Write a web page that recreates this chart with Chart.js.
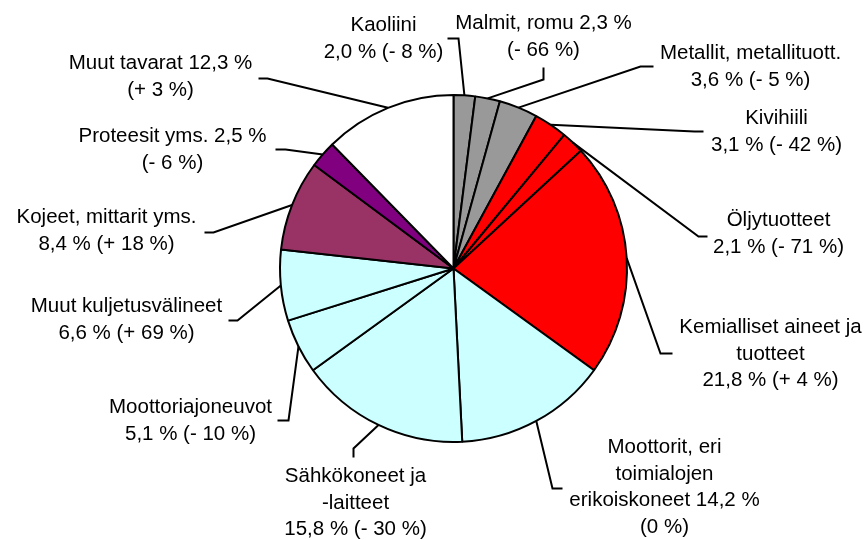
<!DOCTYPE html>
<html>
<head>
<meta charset="utf-8">
<script src="https://cdn.jsdelivr.net/npm/chart.js@4/dist/chart.umd.min.js"></script>
<style>
  html, body { margin: 0; padding: 0; background: #fff; }
  #wrap { width: 867px; height: 540px; }
</style>
</head>
<body>
<div id="wrap"><canvas id="pieChart" width="867" height="540"></canvas></div>
<script>
// Product groups, clockwise from 12 o'clock
const categories = [
    'Kaoliini', 'Malmit, romu', 'Metallit, metallituott.', 'Kivihiili', 'Öljytuotteet',
    'Kemialliset aineet ja\ntuotteet', 'Moottorit, eri\ntoimialojen\nerikoiskoneet',
    'Sähkökoneet ja\n-laitteet', 'Moottoriajoneuvot', 'Muut kuljetusvälineet',
    'Kojeet, mittarit yms.', 'Proteesit yms.', 'Muut tavarat'
];
const shares = [2.0, 2.3, 3.6, 3.1, 2.1, 21.8, 14.2, 15.8, 5.1, 6.6, 8.4, 2.5, 12.3];
const changes = [-8, -66, -5, -42, -71, 4, 0, -30, -10, 69, 18, -6, 3];

const sliceColors = [
    '#999999', '#999999', '#999999', '#ff0000', '#ff0000', '#ff0000',
    '#ccffff', '#ccffff', '#ccffff', '#ccffff', '#993366', '#800080', '#ffffff'
];

// label layout, offsets from the pie centre: text centre, leader elbow, leader end
// inline = share written on the same line as the last name line
const labelLayout = [
    { text: [-70, -243], elbow: [5, -230], end: [-6, -230], inline: false },
    { text: [90, -245], elbow: [90, -189], end: [90, -201], inline: true },
    { text: [297, -215], elbow: [187, -202], end: [200, -202], inline: false },
    { text: [323, -150], elbow: [241, -137], end: [250, -137], inline: false },
    { text: [325, -48], elbow: [245, -32], end: [254, -32], inline: false },
    { text: [317, 59], elbow: [207, 85], end: [219, 85], inline: false },
    { text: [211, 179], elbow: [99, 220], end: [109, 220], inline: true },
    { text: [-98, 208], elbow: [-100, 180], end: [-100, 189], inline: false },
    { text: [-263, 139], elbow: [-165, 152], end: [-176, 152], inline: false },
    { text: [-327, 38], elbow: [-216, 52], end: [-225, 52], inline: false },
    { text: [-347, -51], elbow: [-240, -36], end: [-249, -36], inline: false },
    { text: [-281, -132], elbow: [-168, -119], end: [-178, -119], inline: true },
    { text: [-293, -205], elbow: [-186, -190], end: [-195, -190], inline: true }
];

function fmtShare(v) {
    return v.toFixed(1).replace('.', ',') + ' %';
}
function fmtChange(v) {
    if (v === 0) return '(0 %)';
    return '(' + (v > 0 ? '+ ' : '- ') + Math.abs(v) + ' %)';
}
function labelLines(i) {
    const lines = categories[i].split('\n');
    if (labelLayout[i].inline) {
        lines[lines.length - 1] += ' ' + fmtShare(shares[i]);
        lines.push(fmtChange(changes[i]));
    } else {
        lines.push(fmtShare(shares[i]) + ' ' + fmtChange(changes[i]));
    }
    return lines;
}

const leaderLabels = {
    id: 'leaderLabels',
    afterDraw(chart) {
        const ctx = chart.ctx;
        const arcs = chart.getDatasetMeta(0).data;
        ctx.save();
        arcs.forEach((arc, i) => {
            const p = arc.getProps(['x', 'y', 'startAngle', 'endAngle', 'outerRadius'], true);
            const mid = (p.startAngle + p.endAngle) / 2;
            const lay = labelLayout[i];
            // leader line
            ctx.strokeStyle = '#000';
            ctx.lineWidth = 2;
            ctx.beginPath();
            ctx.moveTo(p.x + Math.cos(mid) * p.outerRadius, p.y + Math.sin(mid) * p.outerRadius);
            ctx.lineTo(p.x + lay.elbow[0], p.y + lay.elbow[1]);
            ctx.lineTo(p.x + lay.end[0], p.y + lay.end[1]);
            ctx.stroke();
            // text
            const lines = labelLines(i);
            ctx.fillStyle = '#000';
            ctx.font = '20.5px "Liberation Sans", Arial, sans-serif';
            ctx.textAlign = 'center';
            ctx.textBaseline = 'middle';
            lines.forEach((line, k) => {
                ctx.fillText(line, p.x + lay.text[0], p.y + lay.text[1] + k * 26.5);
            });
        });
        ctx.restore();
    }
};

const ctx = document.getElementById('pieChart').getContext('2d');
new Chart(ctx, {
    type: 'pie',
    data: {
        labels: categories,
        datasets: [{
            data: shares,
            backgroundColor: sliceColors,
            borderColor: '#000',
            borderWidth: 2,
            hoverBorderWidth: 2,
            hoverOffset: 0
        }]
    },
    options: {
        responsive: false,
        animation: false,
        radius: 173.5,
        layout: {
            padding: { left: 280, right: 240, top: 95, bottom: 98 }
        },
        plugins: {
            legend: { display: false },
            tooltip: { enabled: false }
        }
    },
    plugins: [leaderLabels]
});
</script>
</body>
</html>
